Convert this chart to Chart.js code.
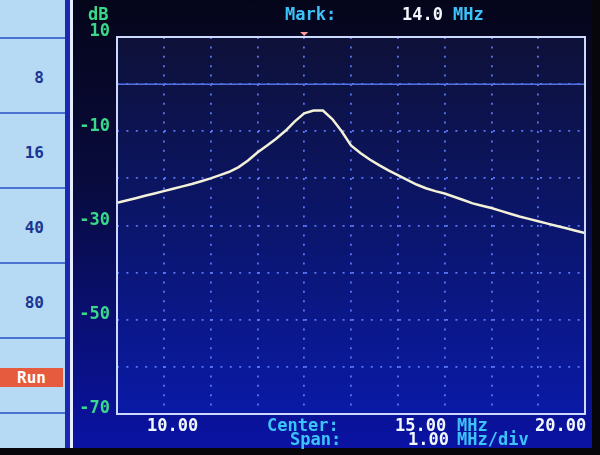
<!DOCTYPE html>
<html>
<head>
<meta charset="utf-8">
<script src="https://cdn.jsdelivr.net/npm/chart.js@4.4.0/dist/chart.umd.min.js"></script>
<style>
  html, body { margin: 0; padding: 0; background: #07070b; }
  #screen {
    position: absolute; left: 0; top: 0; width: 592px; height: 448px;
    background: linear-gradient(#05051a 0%, #080b3c 40%, #0a13a4 100%);
  }
  #panel {
    position: absolute; left: 0; top: 0; width: 65px; height: 448px;
    background: #b6daf3;
  }
  #strip { position: absolute; left: 65px; top: 0; width: 5px; height: 448px; background: #1a28b4; }
  #vline { position: absolute; left: 70px; top: 0; width: 3px; height: 448px; background: #e6eeff; }
  .sep { position: absolute; left: 0; width: 65px; height: 2px; background: #4a72d0; }
  .plabel {
    position: absolute; left: 0; width: 44px; text-align: right;
    font: bold 16px "DejaVu Sans Mono", monospace; color: #1a3594;
    height: 20px; line-height: 20px;
  }
  .run {
    position: absolute; left: 0; width: 63px; height: 19px;
    background: #e65a3e; color: #fff; text-align: center;
    font: bold 16px "DejaVu Sans Mono", monospace; line-height: 19px;
  }
  #c { position: absolute; left: 0; top: 0; }
</style>
</head>
<body>
<div id="screen"></div>
<div id="panel"></div>
<div id="strip"></div>
<div id="vline"></div>
<canvas id="c" width="600" height="455"></canvas>
<script>
// ==================== DATOS ====================
// Traza (MHz / dB) leída de la pantalla, paso 0.2 MHz
const freqMHz = [
  10.0, 10.2, 10.4, 10.6, 10.8, 11.0, 11.2, 11.4, 11.6, 11.8,
  12.0, 12.2, 12.4, 12.6, 12.8, 13.0, 13.2, 13.4, 13.6, 13.8,
  14.0, 14.2, 14.4, 14.6, 14.8, 15.0, 15.2, 15.4, 15.6, 15.8,
  16.0, 16.2, 16.4, 16.6, 16.8, 17.0, 17.2, 17.4, 17.6, 17.8,
  18.0, 18.2, 18.4, 18.6, 18.8, 19.0, 19.2, 19.4, 19.6, 19.8, 20.0
];
const traceDb = [
  -25.2, -24.7, -24.2, -23.7, -23.2, -22.7, -22.2, -21.7, -21.2, -20.6,
  -20.0, -19.3, -18.6, -17.6, -16.2, -14.5, -13.1, -11.6, -9.9, -7.9,
  -6.2, -5.6, -5.6, -7.4, -10.0, -13.0, -14.6, -16.0, -17.2, -18.3,
  -19.3, -20.3, -21.3, -22.1, -22.7, -23.2, -23.9, -24.6, -25.3, -25.8,
  -26.3, -26.9, -27.5, -28.1, -28.6, -29.1, -29.6, -30.1, -30.6, -31.1, -31.6
];
// Línea de referencia (0 dB)
const refFreq = [10, 20];
const refDb = [0, 0];

const markFreq = 14.0;
const yShownLabels = [10, -10, -30, -50, -70];
const panelLabels = ['8', '16', '40', '80', 'Run'];

// textos de pantalla: [texto, x, y, color]
const CYAN = '#3cc4fa', WHITE = '#f2f8ff', GREEN = '#3ad88a';
const screenTexts = [
  ['dB', 88, 16, GREEN],
  ['Mark:', 285, 16, CYAN],
  ['14.0', 402, 16, WHITE],
  ['MHz', 453, 16, CYAN],
  ['10.00', 147, 427, WHITE],
  ['Center:', 267, 427, CYAN],
  ['15.00', 395, 427, WHITE],
  ['MHz', 457, 427, CYAN],
  ['20.00', 535, 427, WHITE],
  ['Span:', 290, 441, CYAN],
  ['1.00', 408, 441, WHITE],
  ['MHz/div', 457, 441, CYAN]
];

const FONT = 'bold 17px "DejaVu Sans Mono", monospace';

// ==================== PANEL IZQUIERDO ====================
const panel = document.getElementById('panel');
for (let i = 0; i < 6; i++) {
  const s = document.createElement('div');
  s.className = 'sep';
  s.style.top = (37 + i * 75) + 'px';
  panel.appendChild(s);
}
panelLabels.forEach((txt, i) => {
  const el = document.createElement('div');
  const cy = 78 + i * 75;
  el.className = txt === 'Run' ? 'run' : 'plabel';
  el.style.top = (cy - 10) + 'px';
  el.textContent = txt;
  panel.appendChild(el);
});

// ==================== PLUGINS ====================
const screenPlugin = {
  id: 'screen',
  beforeDraw(chart) {
    const { ctx, chartArea: a } = chart;
    const g = ctx.createLinearGradient(0, a.top, 0, a.bottom);
    g.addColorStop(0, '#0e1138');
    g.addColorStop(0.45, '#0b1566');
    g.addColorStop(1, '#0a1aa6');
    ctx.save();
    ctx.fillStyle = g;
    ctx.fillRect(a.left, a.top, a.right - a.left, a.bottom - a.top);
    ctx.restore();
  },
  afterDraw(chart) {
    const { ctx, chartArea: a } = chart;
    ctx.save();
    // marco
    ctx.strokeStyle = '#cdd9ff';
    ctx.lineWidth = 2;
    ctx.strokeRect(a.left, a.top, a.right - a.left, a.bottom - a.top);
    // marcador
    const mx = chart.scales.x.getPixelForValue(markFreq);
    ctx.fillStyle = '#ff9a9a';
    ctx.beginPath();
    ctx.moveTo(mx - 4, a.top - 5);
    ctx.lineTo(mx + 4, a.top - 5);
    ctx.lineTo(mx, a.top - 1);
    ctx.closePath();
    ctx.fill();
    // textos
    ctx.font = FONT;
    ctx.textBaseline = 'middle';
    ctx.textAlign = 'left';
    screenTexts.forEach(([t, x, y, col]) => {
      ctx.fillStyle = col;
      ctx.fillText(t, x, y);
    });
    ctx.restore();
  }
};

// ==================== GRÁFICO ====================
new Chart(document.getElementById('c'), {
  type: 'line',
  data: {
    datasets: [
      {
        data: freqMHz.map((f, i) => ({ x: f, y: traceDb[i] })),
        borderColor: '#f3f1d8',
        borderWidth: 2.5,
        tension: 0,
        pointRadius: 0
      },
      {
        data: refFreq.map((f, i) => ({ x: f, y: refDb[i] })),
        borderColor: '#5272e6',
        borderWidth: 1.5,
        pointRadius: 0
      }
    ]
  },
  options: {
    responsive: false,
    animation: false,
    layout: { padding: { left: 0, top: 37, right: 15, bottom: 0 } },
    plugins: { legend: { display: false }, tooltip: { enabled: false } },
    scales: {
      x: {
        type: 'linear', min: 10, max: 20,
        afterFit: s => { s.height = 41; },
        ticks: { stepSize: 1, display: false },
        grid: { color: 'rgba(92,122,255,0.95)', lineWidth: 1.8, drawTicks: false },
        border: { display: false, dash: [2, 7.4] }
      },
      y: {
        min: -70, max: 10,
        afterFit: s => { s.width = 117; },
        ticks: {
          stepSize: 10,
          padding: 7,
          labelOffset: -5,
          color: GREEN,
          font: { family: '"DejaVu Sans Mono", monospace', size: 17, weight: 'bold' },
          callback: v => yShownLabels.includes(v) ? String(v) : ''
        },
        grid: { color: 'rgba(92,122,255,0.95)', lineWidth: 1.8, drawTicks: false },
        border: { display: false, dash: [2, 7.4] }
      }
    }
  },
  plugins: [screenPlugin]
});
</script>
</body>
</html>
